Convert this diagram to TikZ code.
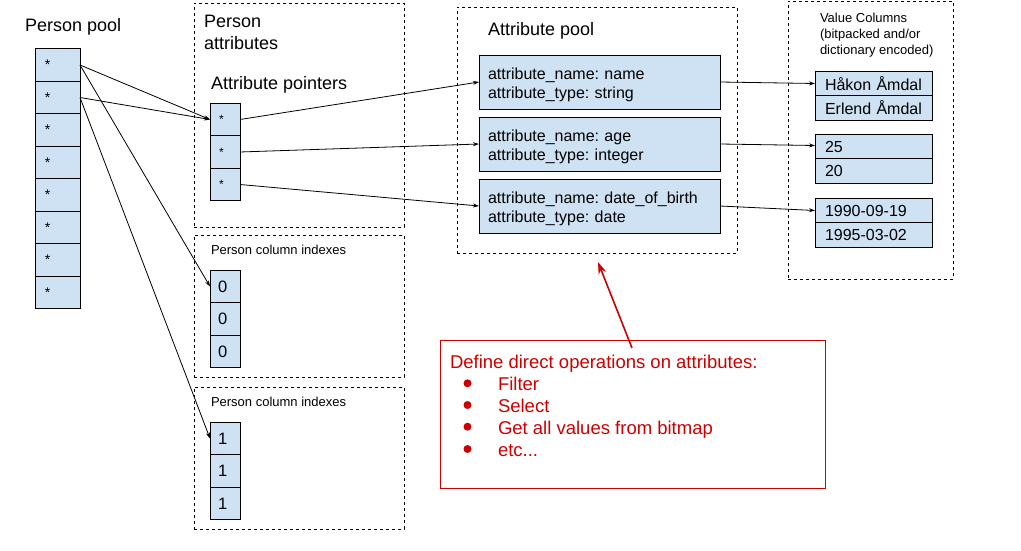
\documentclass[tikz,border=0pt]{standalone}
\usepackage{fontspec}
\setmainfont{Liberation Sans}
\usetikzlibrary{arrows.meta}
\definecolor{cellblue}{HTML}{CFE2F3}
\definecolor{redc}{HTML}{CC0000}
\frenchspacing
\begin{document}
\begin{tikzpicture}[x=1pt,y=-1pt,
  every node/.style={inner sep=0pt, outer sep=0pt},
  cell/.style={draw=black, fill=cellblue, line width=0.8pt, align=left},
  poolcell/.style={cell, minimum width=45pt, minimum height=32.5pt, inner xsep=10pt, text width=25pt, font=\fontsize{14}{16}\selectfont},
  ptrcell/.style={cell, minimum width=30pt, minimum height=32.7pt, inner xsep=9pt, text width=12pt, font=\fontsize{12}{14}\selectfont},
  idxcell/.style={cell, minimum width=30pt, minimum height=32.7pt, inner xsep=8pt, text width=14pt, font=\fontsize{16.5}{18}\selectfont},
  attrbox/.style={cell, minimum width=241pt, minimum height=54pt, inner xsep=9pt, text width=223pt, font=\fontsize{16}{19}\selectfont, execute at begin node={\rule{0pt}{17.5pt}}},
  valcell/.style={cell, minimum width=117pt, minimum height=24.5pt, inner xsep=10pt, text width=97pt, font=\fontsize{16}{18}\selectfont},
  group/.style={draw=black, dashed, line width=0.8pt},
  title/.style={anchor=west, font=\fontsize{18}{22}\selectfont},
  smalltitle/.style={anchor=west, font=\fontsize{13}{16}\selectfont},
  conn/.style={draw=black, line width=0.8pt, -{Stealth[length=6pt,width=4pt]}},
  redbullet/.style={fill=redc}
]
\useasboundingbox (0,0) rectangle (1021,551);
\fill[white] (0,0) rectangle (1021,551);

% Person pool
\node[title] (pptitle) at (25,26.5) {Person pool};
\foreach \i/\y in {1/65,2/97.5,3/130,4/162.5,5/195,6/227.5,7/260,8/292.5}{
  \node[poolcell] (p\i) at (57.5,\y) {*};
}

% Person attributes
\node[group, minimum width=210pt, minimum height=224pt] (pagroup) at (299,115) {};
\node[anchor=north west, align=left, font=\fontsize{18}{22}\selectfont] (patitle) at (204,15.5) {Person\\attributes};
\node[title] (aptitle) at (211,85) {Attribute pointers};
\foreach \i/\y in {1/119.5,2/152,3/184.5}{
  \node[ptrcell] (a\i) at (225,\y) {*};
}

% Person column indexes 1
\node[group, minimum width=210pt, minimum height=142pt] (ci1group) at (299,306) {};
\node[smalltitle] (ci1title) at (211,250) {Person column indexes};
\foreach \i/\y in {1/286.5,2/319,3/351.5}{
  \node[idxcell] (z\i) at (225,\y) {0};
}

% Person column indexes 2
\node[group, minimum width=210pt, minimum height=142pt] (ci2group) at (299,458) {};
\node[smalltitle] (ci2title) at (211,402) {Person column indexes};
\foreach \i/\y in {1/438.5,2/471,3/503.5}{
  \node[idxcell] (o\i) at (225,\y) {1};
}

% Attribute pool
\node[group, minimum width=280pt, minimum height=246pt] (apgroup) at (597,130) {};
\node[title] (aptitle2) at (488,30.5) {Attribute pool};
\node[attrbox] (b1) at (599.5,82) {attribute\_name: name\\attribute\_type: string};
\node[attrbox] (b2) at (599.5,144) {attribute\_name: age\\attribute\_type: integer};
\node[attrbox] (b3) at (599.5,206) {attribute\_name: date\_of\_birth\\attribute\_type: date};

% Value columns
\node[group, minimum width=165pt, minimum height=278pt] (vcgroup) at (870.5,140) {};
\node[anchor=north west, align=left, font=\fontsize{13}{16}\selectfont] (vctitle) at (820,13.5) {Value Columns\\(bitpacked and/or\\dictionary encoded)};
\node[valcell] (v1) at (873.5,83.5) {Håkon Åmdal};
\node[valcell] (v2) at (873.5,108) {Erlend Åmdal};
\node[valcell] (v3) at (873.5,146.5) {25};
\node[valcell] (v4) at (873.5,171) {20};
\node[valcell] (v5) at (873.5,210.5) {1990-09-19};
\node[valcell] (v6) at (873.5,235) {1995-03-02};

% Red note
\node[draw=redc, line width=0.9pt, minimum width=385pt, minimum height=148pt] (note) at (632.5,414) {};
\node[anchor=north west, align=left, text=redc, font=\fontsize{18.5}{22}\selectfont] (notetext) at (450,355)
  {Define direct operations on attributes:\\
   \hspace*{48pt}Filter\\
   \hspace*{48pt}Select\\
   \hspace*{48pt}Get all values from bitmap\\
   \hspace*{48pt}etc...};
\foreach \y in {383.3,405,426.7,449}{
  \fill[redbullet] (467.5,\y) circle (4pt);
}
\coordinate (notetip) at (598,262);
\coordinate (notefoot) at (632,348);
\draw[draw=redc, line width=1.6pt, -{Stealth[length=12pt,width=8pt]}] (notefoot) -- (notetip);

% Connectors
\draw[conn] (p1.east) -- (a1.west);
\draw[conn] (p2.east) -- (a1.west);
\draw[conn] (p1.east) -- (z1.west);
\draw[conn] (p2.east) -- (o1.west);
\draw[conn] (a1.east) -- (b1.west);
\draw[conn] (a2.east) -- (b2.west);
\draw[conn] (a3.east) -- (b3.west);
\draw[conn] (b1.east) -- (v1.west);
\draw[conn] (b2.east) -- ([yshift=1pt]v3.west);
\draw[conn] (b3.east) -- (v5.west);
\end{tikzpicture}
\end{document}
